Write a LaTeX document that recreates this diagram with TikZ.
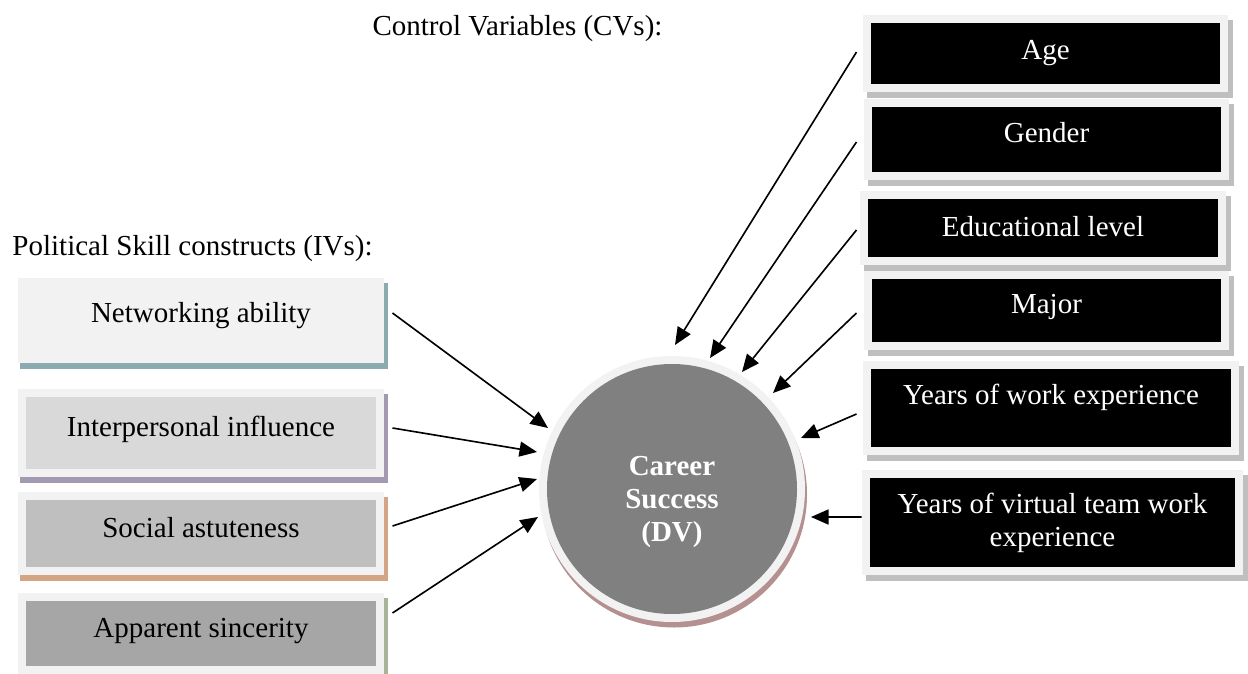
\documentclass[tikz,border=0pt]{standalone}
\usepackage{fontspec}
\setmainfont{Liberation Serif}
\usetikzlibrary{arrows.meta,calc,backgrounds}
\definecolor{frame}{HTML}{F2F2F2}
\definecolor{ivA}{HTML}{F2F2F2}
\definecolor{ivB}{HTML}{D9D9D9}
\definecolor{ivC}{HTML}{BFBFBF}
\definecolor{ivD}{HTML}{A6A6A6}
\definecolor{shA}{HTML}{8CABB1}
\definecolor{shB}{HTML}{A39AB2}
\definecolor{shC}{HTML}{D3A585}
\definecolor{shD}{HTML}{A8B497}
\definecolor{shCV}{HTML}{BFBFBF}
\definecolor{dvgray}{HTML}{808080}
\definecolor{dvshadow}{HTML}{B59090}
\begin{document}
\begin{tikzpicture}[x=0.4pt,y=-0.4pt,
  txt/.style={font=\fontsize{11.6pt}{13.2pt}\selectfont},
  box/.style 2 args={rectangle, inner sep=0pt, fill=frame, txt, text=#2,
    path picture={\fill[#1] ([shift={(3.1pt,-3.1pt)}]path picture bounding box.north west)
      rectangle ([shift={(-3.1pt,3.1pt)}]path picture bounding box.south east);}},
  ivbox/.style={box={#1}{black}, minimum width=146.4pt},
  cvbox/.style={box={black}{white}},
  arr/.style={draw=black, line width=0.65pt, -{Triangle[length=7pt,width=6pt]}},
  title/.style={txt, inner sep=0pt, anchor=base west}]
\useasboundingbox (0,0) rectangle (1248,674);

% headings
\node[title] (cvtitle) at (372,35) {Control Variables (CVs):};
\node[title] (ivtitle) at (12,255) {Political Skill constructs (IVs):};

% independent variables
\node[ivbox=ivA, minimum height=34pt, text height=7.6pt, text depth=6.4pt] (net) at (201,320.5) {Networking ability};
\node[ivbox=ivB, minimum height=35.2pt, text height=8.2pt, text depth=5.8pt] (inf) at (201,433) {Interpersonal influence};
\node[ivbox=ivC, minimum height=33.2pt, text height=8.4pt, text depth=5.6pt] (soc) at (201,533.5) {Social astuteness};
\node[ivbox=ivD, minimum height=32.4pt, text height=8.4pt, text depth=5.6pt] (app) at (201,633.5) {Apparent sincerity};

% control variables
\node[cvbox, minimum width=146pt, minimum height=30.8pt, text height=9.2pt, text depth=4.8pt] (age) at (1045.5,53.5) {Age};
\node[cvbox, minimum width=146pt, minimum height=32.4pt, text height=8pt, text depth=6pt] (gen) at (1046.5,139.5) {Gender};
\node[cvbox, minimum width=146.4pt, minimum height=29.6pt, text height=10.2pt, text depth=3.8pt] (edu) at (1043,228) {Educational level};
\node[cvbox, minimum width=146pt, minimum height=31.6pt, text height=8pt, text depth=6pt] (maj) at (1046.5,310.5) {Major};
\node[cvbox, minimum width=150.4pt, minimum height=37.6pt, text height=5.4pt, text depth=8.6pt] (wrk) at (1051,408) {Years of work experience};
\node[cvbox, minimum width=152.4pt, minimum height=42pt, align=center] (vir) at (1052.5,522.5) {Years of virtual team work\\experience};

% dependent variable
\node[circle, fill=frame, minimum size=106.4pt, inner sep=0pt,
  path picture={\fill[dvgray] (path picture bounding box.center) circle (50pt);}] (dv) at (672,489) {};
\node[txt, text=white, font=\bfseries\fontsize{11.6pt}{13.2pt}\selectfont, align=center, inner sep=0pt]
  (dvlabel) at ([yshift=-5pt]dv.center) {Career\\Success\\(DV)};

% drop shadows
\begin{scope}[on background layer]
  \foreach \n/\c in {net/shA, inf/shB, soc/shC, app/shD}
    \fill[\c] ([shift={(1.2pt,-2pt)}]\n.north west) rectangle ([shift={(1.2pt,-2pt)}]\n.south east);
  \foreach \n in {age, gen, edu, maj, wrk, vir}
    \fill[shCV] ([shift={(1.6pt,-2pt)}]\n.north west) rectangle ([shift={(1.6pt,-2pt)}]\n.south east);
  \fill[dvshadow] ([shift={(0.8pt,-2.2pt)}]dv.center) circle (53.2pt);
\end{scope}

% arrow tips on the rim of the circle
\coordinate (tNet) at ($(dv.center)+(-124,-61)$);
\coordinate (tInf) at ($(dv.center)+(-135,-37)$);
\coordinate (tSoc) at ($(dv.center)+(-135,-10)$);
\coordinate (tApp) at ($(dv.center)+(-134,28)$);
\coordinate (tAge) at ($(dv.center)+(3,-144)$);
\coordinate (tGen) at ($(dv.center)+(38,-131)$);
\coordinate (tEdu) at ($(dv.center)+(70,-117)$);
\coordinate (tMaj) at ($(dv.center)+(101,-96)$);
\coordinate (tWrk) at ($(dv.center)+(129,-51)$);
\coordinate (tVir) at ($(dv.center)+(139,28)$);

% connectors
\draw[arr] ([shift={(3.2pt,3pt)}]net.east) -- (tNet);
\draw[arr] ([shift={(3.2pt,2pt)}]inf.east) -- (tInf);
\draw[arr] ([shift={(3.2pt,3pt)}]soc.east) -- (tSoc);
\draw[arr] ([shift={(3.2pt,8.2pt)}]app.east) -- (tApp);
\draw[arr] ([shift={(-2.4pt,0.6pt)}]age.west) -- (tAge);
\draw[arr] ([shift={(-2.8pt,-1pt)}]gen.west) -- (tGen);
\draw[arr] ([shift={(-1.2pt,-0.8pt)}]edu.west) -- (tEdu);
\draw[arr] ([shift={(-2.8pt,-1pt)}]maj.west) -- (tMaj);
\draw[arr] ([shift={(-2.4pt,-2.4pt)}]wrk.west) -- (tWrk);
\draw[arr] ([shift={(0pt,2.2pt)}]vir.west) -- (tVir);
\end{tikzpicture}
\end{document}
